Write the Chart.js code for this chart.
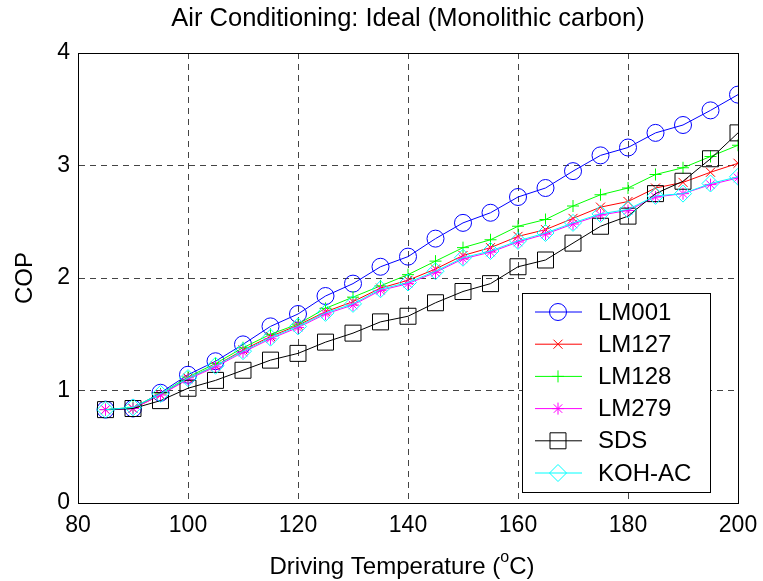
<!DOCTYPE html>
<html>
<head>
<meta charset="utf-8">
<script src="https://cdn.jsdelivr.net/npm/chart.js@4.4.1/dist/chart.umd.min.js"></script>
<style>
  html, body { margin: 0; padding: 0; background: #fff; }
  canvas { display: block; }
</style>
</head>
<body>
<canvas id="chart" width="763" height="581"></canvas>
<script>
// COP vs driving temperature, six adsorbents
const temps = [85, 90, 95, 100, 105, 110, 115, 120, 125, 130, 135, 140, 145, 150, 155, 160, 165, 170, 175, 180, 185, 190, 195, 200];

const lm001 = [0.83, 0.84, 0.98, 1.14, 1.26, 1.41, 1.57, 1.68, 1.84, 1.95, 2.10, 2.19, 2.35, 2.49, 2.58, 2.72, 2.80, 2.95, 3.09, 3.16, 3.29, 3.36, 3.49, 3.63];
const lm127 = [0.83, 0.84, 0.96, 1.11, 1.22, 1.36, 1.48, 1.58, 1.70, 1.79, 1.91, 1.98, 2.08, 2.20, 2.27, 2.37, 2.43, 2.53, 2.63, 2.68, 2.80, 2.85, 2.94, 3.02];
const lm128 = [0.83, 0.85, 0.97, 1.12, 1.24, 1.38, 1.50, 1.59, 1.73, 1.83, 1.93, 2.03, 2.15, 2.27, 2.34, 2.46, 2.52, 2.64, 2.74, 2.80, 2.92, 2.98, 3.08, 3.18];
const lm279 = [0.83, 0.84, 0.96, 1.10, 1.21, 1.34, 1.46, 1.56, 1.68, 1.76, 1.89, 1.95, 2.05, 2.17, 2.23, 2.32, 2.39, 2.48, 2.56, 2.60, 2.72, 2.75, 2.83, 2.89];
const sds   = [0.83, 0.84, 0.91, 1.02, 1.09, 1.18, 1.27, 1.33, 1.43, 1.51, 1.61, 1.66, 1.78, 1.88, 1.95, 2.10, 2.16, 2.31, 2.46, 2.55, 2.75, 2.86, 3.06, 3.29];
const kohac = [0.83, 0.85, 0.97, 1.11, 1.22, 1.35, 1.47, 1.57, 1.69, 1.77, 1.90, 1.96, 2.06, 2.18, 2.24, 2.33, 2.40, 2.49, 2.57, 2.61, 2.73, 2.75, 2.84, 2.90];

const seriesNames = ['LM001', 'LM127', 'LM128', 'LM279', 'SDS', 'KOH-AC'];
const seriesValues = [lm001, lm127, lm128, lm279, sds, kohac];

const xTicks = [80, 100, 120, 140, 160, 180, 200];
const yTicks = [0, 1, 2, 3, 4];

const titleText = 'Air Conditioning: Ideal (Monolithic carbon)';
const xTitleParts = ['Driving Temperature (', 'o', 'C)'];   // middle part is superscript

const FONT = 'Liberation Sans, Arial, Helvetica, sans-serif';
const styles = [
    { color: '#0000ff', shape: 'circle',   r: 8.5 },
    { color: '#ff0000', shape: 'crossRot', r: 6.4 },
    { color: '#00ff00', shape: 'cross',    r: 6 },
    { color: '#ff00ff', shape: 'star',     r: 6 },
    { color: '#000000', shape: 'rect',     r: 11.3 },
    { color: '#00ffff', shape: 'rectRot',  r: 8.5 }
];

const datasets = seriesNames.map((name, i) => ({
    label: name,
    data: seriesValues[i].map((v, j) => ({ x: temps[j], y: v })),
    borderColor: styles[i].color,
    backgroundColor: 'rgba(0,0,0,0)',
    borderWidth: 1,
    pointStyle: styles[i].shape,
    pointRadius: styles[i].r,
    pointBorderColor: styles[i].color,
    pointBackgroundColor: 'rgba(0,0,0,0)',
    pointBorderWidth: 1,
    tension: 0,
    order: seriesNames.length - 1 - i   // later series drawn on top
}));

// title centred over the plot, x title with superscript, solid box, legend
const decorations = {
    id: 'decorations',
    afterDraw(chart) {
        const ctx = chart.ctx;
        const a = chart.chartArea;
        const mid = (a.left + a.right) / 2;
        ctx.save();
        ctx.fillStyle = '#000';
        ctx.textBaseline = 'middle';
        ctx.textAlign = 'center';
        ctx.font = '25.5px ' + FONT;
        ctx.fillText(titleText, mid, 19);

        // x axis title
        ctx.textAlign = 'left';
        const big = '24px ' + FONT, small = '16px ' + FONT;
        ctx.font = big;
        const w0 = ctx.measureText(xTitleParts[0]).width;
        const w2 = ctx.measureText(xTitleParts[2]).width;
        ctx.font = small;
        const w1 = ctx.measureText(xTitleParts[1]).width;
        let x = mid - (w0 + w1 + w2) / 2 - 6;
        const y = 567;
        ctx.font = big;
        ctx.fillText(xTitleParts[0], x, y);
        x += w0;
        ctx.font = small;
        ctx.fillText(xTitleParts[1], x, y - 9);
        x += w1;
        ctx.font = big;
        ctx.fillText(xTitleParts[2], x, y);

        ctx.strokeStyle = '#000';
        ctx.lineWidth = 1;
        ctx.strokeRect(Math.round(a.left) + 0.5, Math.round(a.top) + 0.5,
            Math.round(a.right - a.left), Math.round(a.bottom - a.top));

        // legend
        const lx = 522, ly = 293, lw = 188, lh = 199;
        ctx.fillStyle = '#fff';
        ctx.fillRect(lx, ly, lw, lh);
        ctx.strokeRect(lx + 0.5, ly + 0.5, lw, lh);
        ctx.font = '24px ' + FONT;
        chart.data.datasets.forEach((ds, i) => {
            const yy = 312 + i * 32.2;
            ctx.strokeStyle = ds.borderColor;
            ctx.lineWidth = 1;
            ctx.beginPath();
            ctx.moveTo(535, yy);
            ctx.lineTo(582, yy);
            ctx.stroke();
            ctx.fillStyle = 'rgba(0,0,0,0)';
            Chart.helpers.drawPoint(ctx, {
                pointStyle: ds.pointStyle, radius: ds.pointRadius,
                borderWidth: 1, rotation: 0
            }, 558, yy);
            ctx.fillStyle = '#000';
            ctx.fillText(ds.label, 598, yy + 1);
        });
        ctx.restore();
    }
};

new Chart(document.getElementById('chart'), {
    type: 'line',
    data: { datasets },
    options: {
        responsive: false,
        animation: false,
        layout: { padding: { left: 0, right: 25, top: 53, bottom: 0 } },
        plugins: {
            legend: { display: false },
            tooltip: { enabled: false },
            title: { display: false }
        },
        scales: {
            x: {
                type: 'linear',
                min: 80, max: 200,
                afterBuildTicks: s => { s.ticks = xTicks.map(v => ({ value: v })); },
                afterFit: s => { s.height = 78; s.paddingLeft = 0; s.paddingRight = 0; },
                ticks: { color: '#000', font: { family: FONT, size: 23 }, padding: 9, maxRotation: 0 },
                grid: { color: '#444', lineWidth: 1, drawTicks: false },
                border: { display: true, color: '#000', width: 1, dash: [6, 5] }
            },
            y: {
                min: 0, max: 4,
                afterBuildTicks: s => { s.ticks = yTicks.map(v => ({ value: v })); },
                afterFit: s => { s.width = 78; s.paddingTop = 0; s.paddingBottom = 0; },
                ticks: { color: '#000', font: { family: FONT, size: 23 }, padding: 8 },
                grid: { color: '#444', lineWidth: 1, drawTicks: false },
                border: { display: true, color: '#000', width: 1, dash: [6, 5] },
                title: {
                    display: true,
                    text: 'COP',
                    color: '#000',
                    font: { family: FONT, size: 24 },
                    padding: { top: 11, bottom: 0 }
                }
            }
        }
    },
    plugins: [decorations]
});
</script>
</body>
</html>
